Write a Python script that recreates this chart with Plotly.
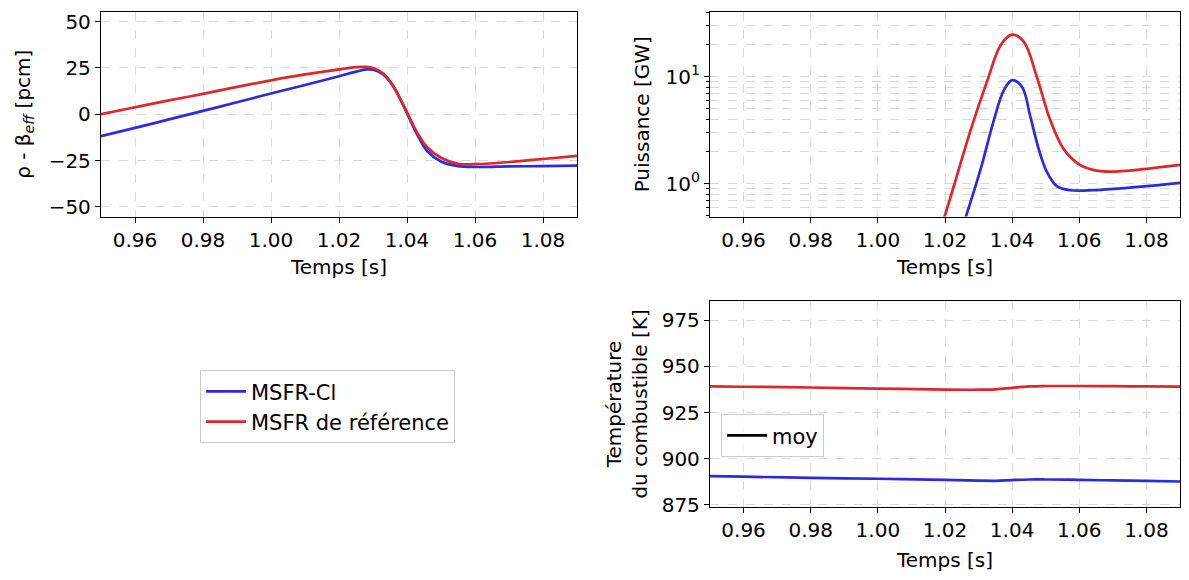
import plotly.graph_objects as go

# ---------------- data ----------------
t_rho = [0.95, 0.96, 0.97, 0.98, 0.99, 1.00, 1.01, 1.02, 1.025, 1.028, 1.03, 1.033,
         1.036, 1.04, 1.043, 1.046, 1.05, 1.055, 1.06, 1.07, 1.08, 1.09]
rho_cl = [-11.8, -7.4, -2.8, 1.8, 6.5, 11.2, 15.8, 20.5, 23.0, 24.2, 24.0, 21.5,
          15.0, 0.5, -11.0, -20.0, -25.5, -28.0, -28.5, -28.2, -28.0, -27.8]
rho_ref = [0.0, 3.8, 7.5, 11.0, 14.8, 18.3, 21.5, 24.2, 25.4, 25.6, 25.0, 22.0,
           15.0, 1.0, -10.0, -18.0, -23.5, -26.8, -27.0, -25.8, -24.2, -22.5]

t_p_ref = [1.015, 1.02, 1.0228, 1.0277, 1.0326, 1.0366, 1.04, 1.0435, 1.0474, 1.0513,
           1.0553, 1.0602, 1.0641, 1.0691, 1.08, 1.09]
p_ref = [0.16, 0.51, 0.99, 3.23, 9.2, 19.8, 24.8, 21.2, 9.86, 3.98,
         2.12, 1.50, 1.35, 1.30, 1.38, 1.50]

t_p_cl = [1.022, 1.0262, 1.0307, 1.0346, 1.0375, 1.04, 1.043, 1.0454, 1.0479, 1.0503,
          1.0533, 1.0572, 1.0641, 1.08, 1.09]
p_cl = [0.19, 0.49, 1.40, 3.98, 7.46, 9.3, 8.0, 4.27, 2.12, 1.30,
        0.95, 0.87, 0.87, 0.95, 1.02]

t_temp = [0.95, 0.96, 0.98, 1.00, 1.02, 1.03, 1.035, 1.04, 1.045, 1.05, 1.06, 1.07, 1.08, 1.09]
temp_ref = [939.2, 939.0, 938.6, 938.0, 937.5, 937.4, 937.6, 938.4, 939.2, 939.4, 939.4, 939.3, 939.2, 939.1]
temp_cl = [890.6, 890.3, 889.7, 889.2, 888.6, 888.2, 888.1, 888.5, 888.8, 888.8, 888.6, 888.3, 888.0, 887.7]

x_ticks = [0.96, 0.98, 1.00, 1.02, 1.04, 1.06, 1.08]
x_ticktext = ["0.96", "0.98", "1.00", "1.02", "1.04", "1.06", "1.08"]
rho_ticks = [-50, -25, 0, 25, 50]
rho_ticktext = ["\u221250", "\u221225", "0", "25", "50"]
p_ticks = [1, 10]
p_ticktext = ["10<sup>0</sup>", "10<sup>1</sup>"]
p_minor = [0.5, 0.6, 0.7, 0.8, 0.9, 2, 3, 4, 5, 6, 7, 8, 9, 20, 30, 40]
temp_ticks = [875, 900, 925, 950, 975]

names = ["MSFR-Cl", "MSFR de référence"]
BLUE = "#2b2be0"
RED = "#e0262b"

# ---------------- figure ----------------
fig = go.Figure()
lw = 2.7

fig.add_trace(go.Scatter(x=t_rho, y=rho_cl, mode="lines", line=dict(color=BLUE, width=lw, shape="spline"),
                         name=names[0], xaxis="x", yaxis="y", showlegend=True, legend="legend"))
fig.add_trace(go.Scatter(x=t_rho, y=rho_ref, mode="lines", line=dict(color=RED, width=lw, shape="spline"),
                         name=names[1], xaxis="x", yaxis="y", showlegend=True, legend="legend"))
fig.add_trace(go.Scatter(x=t_p_cl, y=p_cl, mode="lines", line=dict(color=BLUE, width=lw, shape="spline"),
                         name=names[0], xaxis="x2", yaxis="y2", showlegend=False))
fig.add_trace(go.Scatter(x=t_p_ref, y=p_ref, mode="lines", line=dict(color=RED, width=lw, shape="spline"),
                         name=names[1], xaxis="x2", yaxis="y2", showlegend=False))
fig.add_trace(go.Scatter(x=t_temp, y=temp_cl, mode="lines", line=dict(color=BLUE, width=lw, shape="spline"),
                         name=names[0], xaxis="x3", yaxis="y3", showlegend=False))
fig.add_trace(go.Scatter(x=t_temp, y=temp_ref, mode="lines", line=dict(color=RED, width=lw, shape="spline"),
                         name=names[1], xaxis="x3", yaxis="y3", showlegend=False))
fig.add_trace(go.Scatter(x=[None], y=[None], mode="lines", line=dict(color="black", width=lw),
                         name="moy", xaxis="x3", yaxis="y3", showlegend=True, legend="legend2"))

# page has an 8px body margin on every side: keep the figure fully inside the window
OFF = 8
W, H = 1189 - 2 * OFF, 580 - 2 * OFF
FONT = "DejaVu Sans"
FS = 20
grid = dict(showgrid=True, gridcolor="#d9d9d9", griddash="dash", gridwidth=1)
common = dict(showline=True, linecolor="black", linewidth=1.3, mirror=True,
              ticks="outside", ticklen=5, tickwidth=1.2, tickcolor="black",
              tickfont=dict(size=FS, color="black", family=FONT), zeroline=False,
              ticklabeloverflow="allow", **grid)


def px(x):
    return (x - OFF) / W


def py(y):
    return 1 - (y - OFF) / H


xl = [px(101), px(577)]
xr = [px(710), px(1180)]
ytop = [py(219), py(10)]
ybot = [py(516), py(305)]

title_font = dict(size=FS, color="black", family=FONT)
xcommon = dict(range=[0.95, 1.09], tickvals=x_ticks, ticktext=x_ticktext,
               title=dict(text="Temps [s]", font=title_font, standoff=9), **common)

fig.update_layout(
    width=W, height=H,
    margin=dict(l=0, r=0, t=0, b=0),
    paper_bgcolor="white", plot_bgcolor="white",
    font=dict(family=FONT, size=FS, color="black"),
    xaxis=dict(domain=xl, anchor="y", **xcommon),
    yaxis=dict(domain=ytop, anchor="x", range=[-55.25, 55.25], tickvals=rho_ticks, ticktext=rho_ticktext,
               title=dict(text="ρ - β<sub><i>eff</i></sub> [pcm]", font=title_font, standoff=12), **common),
    xaxis2=dict(domain=xr, anchor="y2", **xcommon),
    yaxis2=dict(domain=ytop, anchor="x2", type="log", range=[-0.306, 1.606],
                tickvals=p_ticks, ticktext=p_ticktext,
                minor=dict(tickvals=p_minor, ticks="outside", ticklen=3, tickcolor="black",
                           showgrid=True, gridcolor="#d9d9d9", griddash="dash", gridwidth=1),
                title=dict(text="Puissance [GW]", font=title_font, standoff=10), **common),
    xaxis3=dict(domain=xr, anchor="y3", **{**xcommon, "title": dict(text="Temps [s]", font=title_font, standoff=12)}),
    yaxis3=dict(domain=ybot, anchor="x3", range=[873.8, 985.6], tickvals=temp_ticks,
                title=dict(text="Température<br>du combustible [K]", font=title_font, standoff=8), **common),
    legend=dict(x=px(200), y=py(376), xanchor="left", yanchor="top",
                bgcolor="white", bordercolor="#cccccc", borderwidth=1,
                font=dict(size=21, family=FONT, color="black"), tracegroupgap=2, itemwidth=40),
    legend2=dict(x=px(721), y=py(421), xanchor="left", yanchor="top",
                 bgcolor="rgba(255,255,255,0.8)", bordercolor="#cccccc", borderwidth=1,
                 font=dict(size=21, family=FONT, color="black"), itemwidth=40),
)

fig.write_html("out.html")
